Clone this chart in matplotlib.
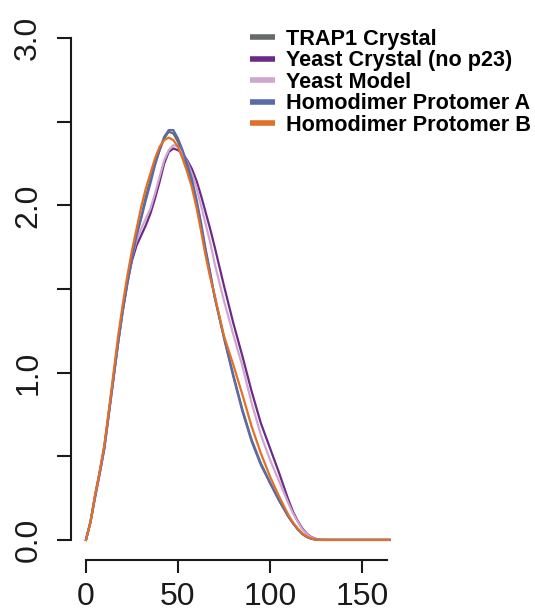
import matplotlib
matplotlib.use("Agg")
import matplotlib.pyplot as plt

# distance grid shared by all series
x = [0, 2.5, 5, 7.5, 10, 12.5, 15, 17.5, 20, 22.5, 25, 27.5, 30, 32.5, 35,
     37.5, 40, 42.5, 45, 47.5, 50, 52.5, 55, 57.5, 60, 62.5, 65, 67.5, 70, 75,
     80, 85, 90, 95, 100, 105, 110, 112.5, 115, 117.5, 120, 122.5, 125, 127.5,
     130, 165]

trap1 = [0, 0.11, 0.27, 0.41, 0.56, 0.77, 0.98, 1.19, 1.38, 1.55, 1.70, 1.83,
         1.93, 2.05, 2.15, 2.25, 2.33, 2.40, 2.44, 2.43, 2.38, 2.31, 2.23, 2.14,
         2.02, 1.88, 1.73, 1.59, 1.45, 1.21, 0.99, 0.78, 0.60, 0.46, 0.345, 0.235,
         0.14, 0.10, 0.065, 0.037, 0.018, 0.007, 0.002, 0, 0, 0]
yeast_crystal = [0, 0.11, 0.26, 0.40, 0.55, 0.76, 0.97, 1.18, 1.37, 1.54, 1.67,
                 1.76, 1.82, 1.88, 1.95, 2.04, 2.14, 2.25, 2.32, 2.34, 2.33, 2.31,
                 2.27, 2.22, 2.15, 2.06, 1.96, 1.86, 1.75, 1.52, 1.30, 1.10, 0.89,
                 0.70, 0.55, 0.40, 0.24, 0.17, 0.115, 0.07, 0.038, 0.017, 0.006,
                 0.001, 0, 0]
yeast_model = [0, 0.11, 0.26, 0.40, 0.55, 0.76, 0.97, 1.18, 1.37, 1.54, 1.69,
               1.79, 1.86, 1.92, 1.98, 2.07, 2.17, 2.27, 2.33, 2.36, 2.35, 2.31,
               2.26, 2.19, 2.11, 2.00, 1.89, 1.78, 1.65, 1.43, 1.23, 1.04, 0.82,
               0.63, 0.48, 0.35, 0.22, 0.16, 0.11, 0.065, 0.035, 0.015, 0.005,
               0.001, 0, 0]
protomer_a = [0, 0.11, 0.26, 0.40, 0.55, 0.76, 0.97, 1.18, 1.37, 1.53, 1.68,
              1.82, 1.92, 2.03, 2.13, 2.24, 2.33, 2.41, 2.45, 2.45, 2.40, 2.33,
              2.25, 2.16, 2.04, 1.90, 1.74, 1.60, 1.45, 1.21, 0.98, 0.77, 0.59,
              0.45, 0.34, 0.235, 0.14, 0.10, 0.065, 0.036, 0.017, 0.007, 0.002, 0,
              0, 0]
protomer_b = [0, 0.11, 0.27, 0.41, 0.57, 0.78, 1.00, 1.22, 1.41, 1.58, 1.73,
              1.86, 1.99, 2.10, 2.19, 2.28, 2.35, 2.39, 2.405, 2.39, 2.35, 2.28,
              2.20, 2.11, 1.99, 1.85, 1.70, 1.57, 1.46, 1.22, 1.05, 0.87, 0.68,
              0.52, 0.38, 0.26, 0.15, 0.105, 0.07, 0.04, 0.02, 0.008, 0.002, 0,
              0, 0]

labels = ["TRAP1 Crystal", "Yeast Crystal (no p23)", "Yeast Model",
          "Homodimer Protomer A", "Homodimer Protomer B"]
colors = ["#666a6a", "#6b2a86", "#cfa6cf", "#5b6aa8", "#e0702a"]
series = [trap1, yeast_crystal, yeast_model, protomer_a, protomer_b]

plt.rcParams['font.family'] = ['Liberation Sans', 'DejaVu Sans']

fig = plt.figure(figsize=(5.35, 6.11), dpi=100)
ax = fig.add_axes([0.138, 0.0835, 0.6107, 0.887])

for ys, c, lab in zip(series, colors, labels):
    ax.plot(x, ys, color=c, lw=1.6, label=lab, solid_joinstyle='round')

ax.set_xlim(-6.6, 171)
ax.set_ylim(-0.12, 3.12)

for s in ['top', 'right']:
    ax.spines[s].set_visible(False)
ax.spines['left'].set_position(('outward', 2))
ax.spines['left'].set_bounds(0, 3)
ax.spines['bottom'].set_bounds(0, 163.6)
for s in ['left', 'bottom']:
    ax.spines[s].set_linewidth(1.5)
    ax.spines[s].set_color('#1a1a1a')

ax.set_xticks([0, 50, 100, 150])
ax.set_yticks([0, 0.5, 1, 1.5, 2, 2.5, 3])
ax.set_yticklabels(['0.0', '', '1.0', '', '2.0', '', '3.0'])
ax.tick_params(axis='both', labelsize=23, width=1.5, color='#1a1a1a',
               labelcolor='#1a1a1a')
ax.tick_params(axis='y', length=10, pad=10, labelrotation=90)
ax.tick_params(axis='x', length=9, pad=7)
for t in ax.get_yticklabels():
    t.set_va('center')

leg = ax.legend(loc='upper left', bbox_to_anchor=(250 / 535, 1 - 29 / 611),
                bbox_transform=fig.transFigure, frameon=False,
                prop={'weight': 'bold', 'size': 15.6}, handlelength=1.15,
                handletextpad=0.5, labelspacing=0.02, borderpad=0,
                borderaxespad=0)
for h in leg.get_lines():
    h.set_linewidth(4)
    h.set_solid_capstyle('butt')

fig.savefig("out.png", dpi=100)
